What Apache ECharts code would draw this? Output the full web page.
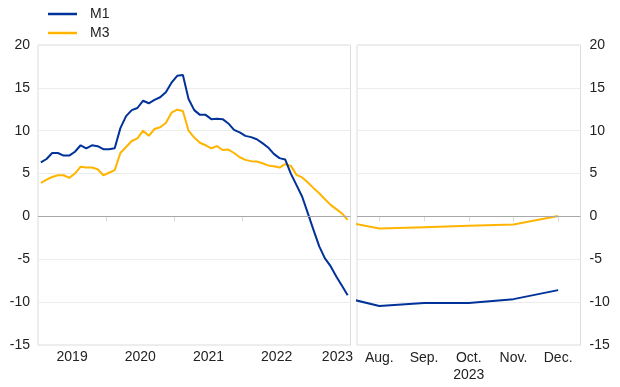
<!DOCTYPE html>
<html>
<head>
<meta charset="utf-8">
<script src="https://cdn.jsdelivr.net/npm/echarts@6/dist/echarts.min.js"></script>
<style>
html,body{margin:0;padding:0;background:#fff;}
#chart{width:620px;height:387px;}
</style>
</head>
<body>
<div id="chart"></div>
<script>
// Monthly annual growth rates, Jan 2019 - Jul 2023 (left panel)
const m1Left = [6.3, 6.7, 7.4, 7.4, 7.1, 7.1, 7.55, 8.3, 7.95, 8.3, 8.2, 7.85,
  7.85, 7.95, 10.3, 11.7, 12.4, 12.65, 13.5, 13.2, 13.6, 13.9, 14.5, 15.6,
  16.4, 16.5, 13.7, 12.4, 11.85, 11.85, 11.35, 11.4, 11.35, 10.85, 10.1, 9.8,
  9.4, 9.25, 9.0, 8.55, 8.05, 7.3, 6.8, 6.65, 5.0, 3.65, 2.3, 0.35,
  -1.6, -3.5, -4.9, -5.8, -7.0, -8.1, -9.2];
const m3Left = [3.9, 4.3, 4.6, 4.8, 4.8, 4.5, 5.0, 5.8, 5.7, 5.7, 5.5, 4.8,
  5.1, 5.4, 7.4, 8.1, 8.8, 9.1, 10.0, 9.4, 10.2, 10.4, 10.9, 12.1,
  12.45, 12.3, 10.0, 9.2, 8.6, 8.3, 7.95, 8.2, 7.75, 7.8, 7.4, 6.9,
  6.6, 6.45, 6.4, 6.2, 5.95, 5.85, 5.7, 6.1, 5.9, 4.85, 4.55, 3.95,
  3.3, 2.7, 2.0, 1.35, 0.85, 0.35, -0.4];
const yearLabels = ['2019', '2020', '2021', '2022', '2023'];

// Right panel: Jul 2023 (clipped at panel edge) to Dec 2023
const rightMonths = ['Jul.', 'Aug.', 'Sep.', 'Oct.', 'Nov.', 'Dec.'];
const m1Right = [-9.2, -10.45, -10.1, -10.1, -9.65, -8.6];
const m3Right = [-0.4, -1.4, -1.25, -1.1, -0.95, 0.05];
const rightYear = '2023';

const yTicks = [-15, -10, -5, 0, 5, 10, 15, 20];

const BLUE = '#003299', YELLOW = '#FFB400';
const FONT = "'Liberation Sans', Arial, sans-serif";
const TXT = '#222222';
const FS = 14;

// layout constants
const lastYearLabelPos = 52.7;
const leftLabelPos = yearLabels.map((y, k) => k < yearLabels.length - 1 ? 12 * k + 6 : lastYearLabelPos);

const chart = echarts.init(document.getElementById('chart'), null, {renderer: 'canvas'});

const zeroMark = {
  silent: true, symbol: 'none', label: {show: false},
  lineStyle: {color: '#a8a8a8', width: 1, type: 'solid'},
  data: [{yAxis: 0}], animation: false
};

const yCommon = {
  type: 'value', min: yTicks[0], max: yTicks[yTicks.length - 1], interval: 5,
  axisLine: {show: false}, axisTick: {show: false},
  splitLine: {show: true, lineStyle: {color: '#ececec', width: 1}},
  axisLabel: {color: TXT, fontSize: FS, fontFamily: FONT, margin: 8}
};

chart.setOption({
  animation: false,
  backgroundColor: '#ffffff',
  textStyle: {fontFamily: FONT},
  legend: {
    orient: 'vertical', left: 43, top: 2,
    icon: 'rect', itemWidth: 29, itemHeight: 2.5, itemGap: 5,
    textStyle: {color: TXT, fontSize: FS, fontFamily: FONT, lineHeight: 14, padding: [0, 0, 0, 8]},
    data: ['M1', 'M3']
  },
  grid: [
    {left: 38, top: 45, width: 312.5, height: 300, show: true, borderColor: '#dcdcdc', borderWidth: 1, backgroundColor: 'transparent', containLabel: false},
    {left: 357, top: 45, width: 223.5, height: 300, show: true, borderColor: '#dcdcdc', borderWidth: 1, backgroundColor: 'transparent', containLabel: false}
  ],
  xAxis: [
    {
      gridIndex: 0, type: 'value', min: 0, max: 55,
      splitLine: {show: false},
      axisLine: {show: false},
      axisTick: {show: true, customValues: [12, 24, 36, 48], length: 5, lineStyle: {color: '#dcdcdc'}},
      axisLabel: {
        show: true, customValues: leftLabelPos, color: TXT, fontSize: FS, fontFamily: FONT, margin: 5,
        formatter: function (v) {
          const k = leftLabelPos.indexOf(v);
          return k >= 0 ? yearLabels[k] : '';
        }
      }
    },
    {
      gridIndex: 1, type: 'value', min: 0.5, max: 5.5,
      splitLine: {show: false},
      axisLine: {show: false},
      axisTick: {show: true, customValues: [1, 2, 3, 4, 5], length: 5, lineStyle: {color: '#dcdcdc'}},
      axisLabel: {
        show: true, customValues: [1, 2, 3, 4, 5], color: TXT, fontSize: FS, fontFamily: FONT, margin: 5,
        lineHeight: 17,
        formatter: function (v) {
          const name = rightMonths[Math.round(v)];
          return Math.round(v) === 3 ? name + '\n' + rightYear : name;
        }
      }
    }
  ],
  yAxis: [
    Object.assign({}, yCommon, {gridIndex: 0, position: 'left'}),
    Object.assign({}, yCommon, {gridIndex: 1, position: 'right', axisLabel: Object.assign({}, yCommon.axisLabel, {margin: 9})})
  ],
  series: [
    {
      name: 'M1', type: 'line', xAxisIndex: 0, yAxisIndex: 0, showSymbol: false, symbol: 'none',
      lineStyle: {color: BLUE, width: 2}, itemStyle: {color: BLUE}, z: 3,
      data: m1Left.map((v, i) => [i + 0.5, v])
    },
    {
      name: 'M3', type: 'line', xAxisIndex: 0, yAxisIndex: 0, showSymbol: false, symbol: 'none',
      lineStyle: {color: YELLOW, width: 2}, itemStyle: {color: YELLOW}, z: 2,
      data: m3Left.map((v, i) => [i + 0.5, v]),
      markLine: zeroMark
    },
    {
      name: 'M1', type: 'line', xAxisIndex: 1, yAxisIndex: 1, showSymbol: false, symbol: 'none',
      lineStyle: {color: BLUE, width: 2}, itemStyle: {color: BLUE}, z: 3, clip: true,
      data: m1Right.map((v, i) => [i, v])
    },
    {
      name: 'M3', type: 'line', xAxisIndex: 1, yAxisIndex: 1, showSymbol: false, symbol: 'none',
      lineStyle: {color: YELLOW, width: 2}, itemStyle: {color: YELLOW}, z: 2, clip: true,
      data: m3Right.map((v, i) => [i, v]),
      markLine: zeroMark
    }
  ]
});
</script>
</body>
</html>
